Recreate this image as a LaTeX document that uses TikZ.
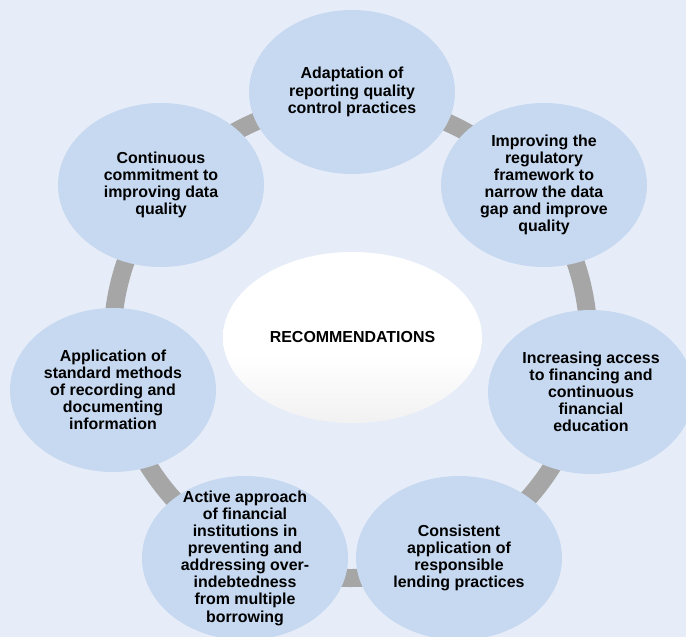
\documentclass[tikz,border=0pt]{standalone}
\usepackage{fontspec}
\setmainfont{Liberation Sans}
\usetikzlibrary{shapes.geometric}
\definecolor{bgc}{RGB}{231,237,248}
\definecolor{bubblec}{RGB}{198,217,240}
\definecolor{ringc}{RGB}{166,166,166}
\pgfdeclareverticalshading{centershade}{100bp}{color(0bp)=(black!12); color(45bp)=(white); color(100bp)=(white)}
\tikzset{
  bubble/.style={ellipse, fill=bubblec, draw=none, minimum width=206bp, minimum height=164bp, inner sep=0pt},
  bubbletext/.style={align=center, inner sep=0pt, font={\fontsize{16}{17.2}\selectfont\bfseries}, text=black},
  centre/.style={ellipse, shading=centershade, draw=none, minimum width=259bp, minimum height=171bp, inner sep=0pt, font={\fontsize{16}{17.2}\selectfont\bfseries}},
  ringline/.style={draw=ringc, line width=18bp}
}
\begin{document}
\begin{tikzpicture}[x=1bp, y=-1bp]
\useasboundingbox (0,0) rectangle (686,637);
\fill[bgc] (0,0) rectangle (686,637);
\clip (0,0) rectangle (686,637);
\coordinate (rc) at (350.5,340);
\draw[ringline] (rc) circle[radius=238bp];
\node[bubble] (b1) at (352,92) {};
\node[bubble] (b2) at (544,185) {};
\node[bubble] (b3) at (591,392) {};
\node[bubble] (b4) at (459,558) {};
\node[bubble] (b5) at (245,558) {};
\node[bubble] (b6) at (113,390) {};
\node[bubble] (b7) at (161,185) {};
\node[bubbletext] (t1) at (b1) {Adaptation of\\reporting quality\\control practices};
\node[bubbletext] (t2) at (b2) {Improving the\\regulatory\\framework to\\narrow the data\\gap and improve\\quality};
\node[bubbletext] (t3) at (b3) {Increasing access\\to financing and\\continuous\\financial\\education};
\node[bubbletext] (t4) at (b4) {Consistent\\application of\\responsible\\lending practices};
\node[bubbletext] (t5) at (b5) {Active approach\\of financial\\institutions in\\preventing and\\addressing over-\\indebtedness\\from multiple\\borrowing};
\node[bubbletext] (t6) at (b6) {Application of\\standard methods\\of recording and\\documenting\\information};
\node[bubbletext] (t7) at (b7) {Continuous\\commitment to\\improving data\\quality};
\node[centre] (c) at (352.5,337.5) {RECOMMENDATIONS};
\end{tikzpicture}
\end{document}
